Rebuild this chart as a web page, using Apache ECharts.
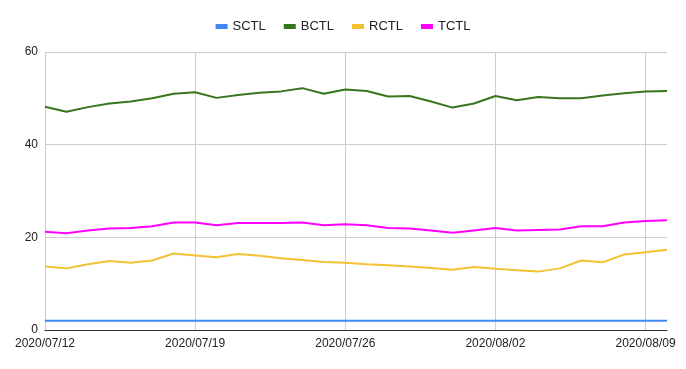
<!DOCTYPE html>
<html>
<head>
<meta charset="utf-8">
<script src="https://cdn.jsdelivr.net/npm/echarts@6/dist/echarts.min.js"></script>
<style>
html,body{margin:0;padding:0;background:#fff;}
#chart{width:686px;height:369px;}
</style>
</head>
<body>
<div id="chart"></div>
<script>
var dates = ["2020/07/12","2020/07/13","2020/07/14","2020/07/15","2020/07/16","2020/07/17","2020/07/18",
"2020/07/19","2020/07/20","2020/07/21","2020/07/22","2020/07/23","2020/07/24","2020/07/25",
"2020/07/26","2020/07/27","2020/07/28","2020/07/29","2020/07/30","2020/07/31","2020/08/01",
"2020/08/02","2020/08/03","2020/08/04","2020/08/05","2020/08/06","2020/08/07","2020/08/08",
"2020/08/09","2020/08/10"];
var sctl = [2,2,2,2,2,2,2,2,2,2,2,2,2,2,2,2,2,2,2,2,2,2,2,2,2,2,2,2,2,2];
var bctl = [48.2,47.1,48.1,48.9,49.3,50.0,51.0,51.3,50.1,50.7,51.2,51.5,52.2,51.0,51.9,51.6,50.4,50.5,49.3,48.0,48.9,50.5,49.6,50.3,50.0,50.0,50.6,51.1,51.5,51.6];
var rctl = [13.7,13.3,14.2,14.9,14.5,15.0,16.5,16.1,15.7,16.4,16.0,15.5,15.1,14.7,14.5,14.2,14.0,13.7,13.4,13.0,13.6,13.2,12.9,12.6,13.3,15.0,14.6,16.3,16.8,17.3];
var tctl = [21.2,20.9,21.5,21.9,22.0,22.4,23.2,23.2,22.6,23.1,23.1,23.1,23.2,22.6,22.8,22.6,22.0,21.9,21.5,21.0,21.5,22.0,21.5,21.6,21.7,22.4,22.4,23.2,23.5,23.7];
var yTicks = {min:0, max:60, interval:20};

var chart = echarts.init(document.getElementById('chart'));
function line(name, data, color){
  return {name:name, type:'line', data:data, symbol:'none', smooth:false, z:3,
    lineStyle:{width:2, color:color}, itemStyle:{color:color}};
}
function weekly(idx){ return idx % 7 === 0; }
chart.setOption({
  animation:false,
  textStyle:{fontFamily:'"Liberation Sans", Arial, sans-serif'},
  legend:{
    top:15, left:'center', icon:'rect', itemWidth:12, itemHeight:5, itemGap:18,
    textStyle:{fontSize:13, color:'#222', fontFamily:'"Liberation Sans", Arial, sans-serif'},
    data:['SCTL','BCTL','RCTL','TCTL']
  },
  grid:{left:45, right:19, top:52, bottom:39, containLabel:false, show:false},
  xAxis:{
    type:'category', data:dates, boundaryGap:false,
    axisLine:{show:true, lineStyle:{color:'#333', width:1}},
    axisTick:{show:false},
    axisLabel:{interval:weekly, color:'#222', fontSize:12, margin:8, fontFamily:'"Liberation Sans", Arial, sans-serif'},
    splitLine:{show:true, interval:weekly, lineStyle:{color:'#ccc', width:1}}
  },
  yAxis:{
    type:'value', min:yTicks.min, max:yTicks.max, interval:yTicks.interval,
    axisLine:{show:false}, axisTick:{show:false},
    axisLabel:{color:'#222', fontSize:12, margin:7, fontFamily:'"Liberation Sans", Arial, sans-serif'},
    splitLine:{show:true, lineStyle:{color:'#ccc', width:1}}
  },
  series:[
    line('SCTL', sctl, '#4285F4'),
    line('BCTL', bctl, '#38761D'),
    line('RCTL', rctl, '#F1C232'),
    line('TCTL', tctl, '#FF00FF')
  ]
});
</script>
</body>
</html>
